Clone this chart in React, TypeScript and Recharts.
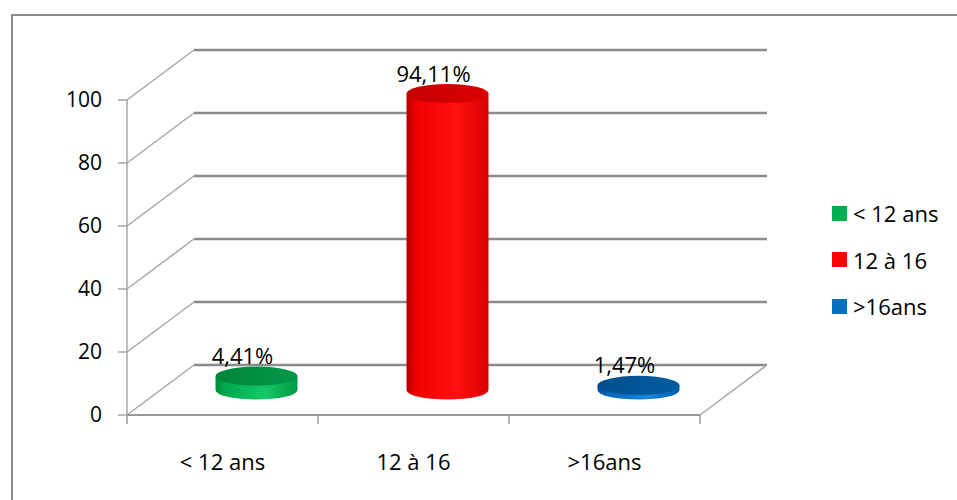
import { Bar, BarChart, CartesianGrid, XAxis, YAxis } from "recharts";

const categories = ["< 12 ans", "12 à 16", ">16ans"];
const values = [4.41, 94.11, 1.47];
const yTicks = [0, 20, 40, 60, 80, 100];

const data = categories.map((name, i) => ({ name, value: values[i] }));

const W = 957;
const H = 500;
const MARGIN = { top: 100, right: 257, bottom: 55, left: 67 };
const Y_AXIS_W = 60;
const X_AXIS_H = 30;
const FLOOR_Y = H - MARGIN.bottom - X_AXIS_H;
const PLOT_W = W - MARGIN.left - Y_AXIS_W - MARGIN.right;
// depth of the 3D box (back wall offset)
const DX = 67;
const DY = -50;
const RY = 9.5;
const FONT = "'Open Sans', sans-serif";

const PALETTE = [
  { edge: "#008a3c", body: "#00aa4c", light: "#14c866", edge2: "#009a46", top: "#00853c", topLight: "#00984a", key: "#00B050" },
  { edge: "#b80000", body: "#f20000", light: "#ff1010", edge2: "#dc0000", top: "#c40000", topLight: "#dc0000", key: "#FF0000" },
  { edge: "#004f96", body: "#0066b8", light: "#1a86dc", edge2: "#005ca8", top: "#004f8e", topLight: "#005c9e", key: "#0070C0" },
];

const fmt = (v: number) => v.toFixed(2).replace(".", ",") + "%";

function GridLine(props: any) {
  const { x1, x2, y1 } = props;
  const floor = y1 >= FLOOR_Y - 1;
  return (
    <g>
      <line x1={x1} y1={y1} x2={x1 + DX} y2={y1 + DY} stroke="#a6a6a6" strokeWidth={1.5} />
      <line x1={x1 + DX} y1={y1 + DY} x2={x2 + DX} y2={y1 + DY} stroke="#8c8c8c" strokeWidth={2.5} />
      {floor && <line x1={x2} y1={y1} x2={x2 + DX} y2={y1 + DY} stroke="#a6a6a6" strokeWidth={1.5} />}
    </g>
  );
}

function XTick(props: any) {
  const { x, y, payload, index } = props;
  const half = PLOT_W / categories.length / 2;
  const last = index === categories.length - 1;
  return (
    <g>
      <line x1={x - half} y1={y} x2={x - half} y2={y + 9} stroke="#9a9a9a" strokeWidth={1.5} />
      {last && <line x1={x + half} y1={y} x2={x + half} y2={y + 9} stroke="#9a9a9a" strokeWidth={1.5} />}
      <text x={x} y={y + 46} textAnchor="middle" dominantBaseline="central" fill="#000" fontSize={22} fontFamily={FONT}>
        {payload.value}
      </text>
    </g>
  );
}

function Cylinder(props: any) {
  const { x, y, width, height, index, value } = props;
  const c = PALETTE[index];
  const cx = x + width / 2 + DX / 2;
  const rx = width / 2;
  const top = y + DY / 2;
  const bot = y + height + DY / 2;
  const id = `cyl-${index}`;
  const v = Array.isArray(value) ? value[1] - value[0] : value;
  return (
    <g>
      <defs>
        <linearGradient id={`${id}-side`} x1="0" x2="1" y1="0" y2="0">
          <stop offset="0" stopColor={c.edge} />
          <stop offset="0.12" stopColor={c.body} />
          <stop offset="0.6" stopColor={c.light} />
          <stop offset="1" stopColor={c.edge2} />
        </linearGradient>
        <linearGradient id={`${id}-top`} x1="0" x2="1" y1="0" y2="0">
          <stop offset="0" stopColor={c.top} />
          <stop offset="1" stopColor={c.topLight} />
        </linearGradient>
      </defs>
      <path
        d={`M${cx - rx},${top} L${cx - rx},${bot} A${rx},${RY} 0 0 0 ${cx + rx},${bot} L${cx + rx},${top} Z`}
        fill={`url(#${id}-side)`}
      />
      <ellipse cx={cx} cy={top} rx={rx} ry={RY} fill={`url(#${id}-top)`} />
      <text x={cx - 14} y={top - 21} textAnchor="middle" dominantBaseline="central" fill="#000" fontSize={22} fontFamily={FONT}>
        {fmt(v)}
      </text>
    </g>
  );
}

function LegendBox() {
  return (
    <div
      style={{
        position: "absolute",
        left: 832,
        top: 190,
        fontFamily: FONT,
        fontSize: 22,
        color: "#000",
      }}
    >
      {categories.map((name, i) => (
        <div key={name} style={{ display: "flex", alignItems: "center", height: 46.5 }}>
          <span style={{ width: 15, height: 15, background: PALETTE[i].key, marginRight: 6 }} />
          <span>{name}</span>
        </div>
      ))}
    </div>
  );
}

export default function App() {
  return (
    <div style={{ position: "absolute", left: 0, top: 0, width: W, height: H, overflow: "hidden", background: "#fff" }}>
      <div
        style={{
          position: "absolute",
          left: 11,
          top: 14,
          width: 1000,
          height: 600,
          border: "2px solid #8c8c8c",
        }}
      />
      <div style={{ position: "absolute", left: 0, top: 0 }}>
        <BarChart width={W} height={H} data={data} margin={MARGIN}>
          <CartesianGrid vertical={false} horizontal={(p: any) => <GridLine {...p} />} />
          <XAxis
            dataKey="name"
            height={X_AXIS_H}
            axisLine={{ stroke: "#9a9a9a", strokeWidth: 2 }}
            tickLine={false}
            tickSize={0}
            tickMargin={0}
            tick={<XTick />}
            interval={0}
          />
          <YAxis
            width={Y_AXIS_W}
            domain={[0, 100]}
            ticks={yTicks}
            axisLine={{ stroke: "#a6a6a6", strokeWidth: 1.5 }}
            tickLine={{ stroke: "#a6a6a6", strokeWidth: 1.5 }}
            tickSize={9}
            tickMargin={16}
            tick={{ fill: "#000", fontSize: 21, fontFamily: FONT }}
          />
          <Bar dataKey="value" barSize={82} shape={<Cylinder />} isAnimationActive={false} />
        </BarChart>
      </div>
      <LegendBox />
    </div>
  );
}
